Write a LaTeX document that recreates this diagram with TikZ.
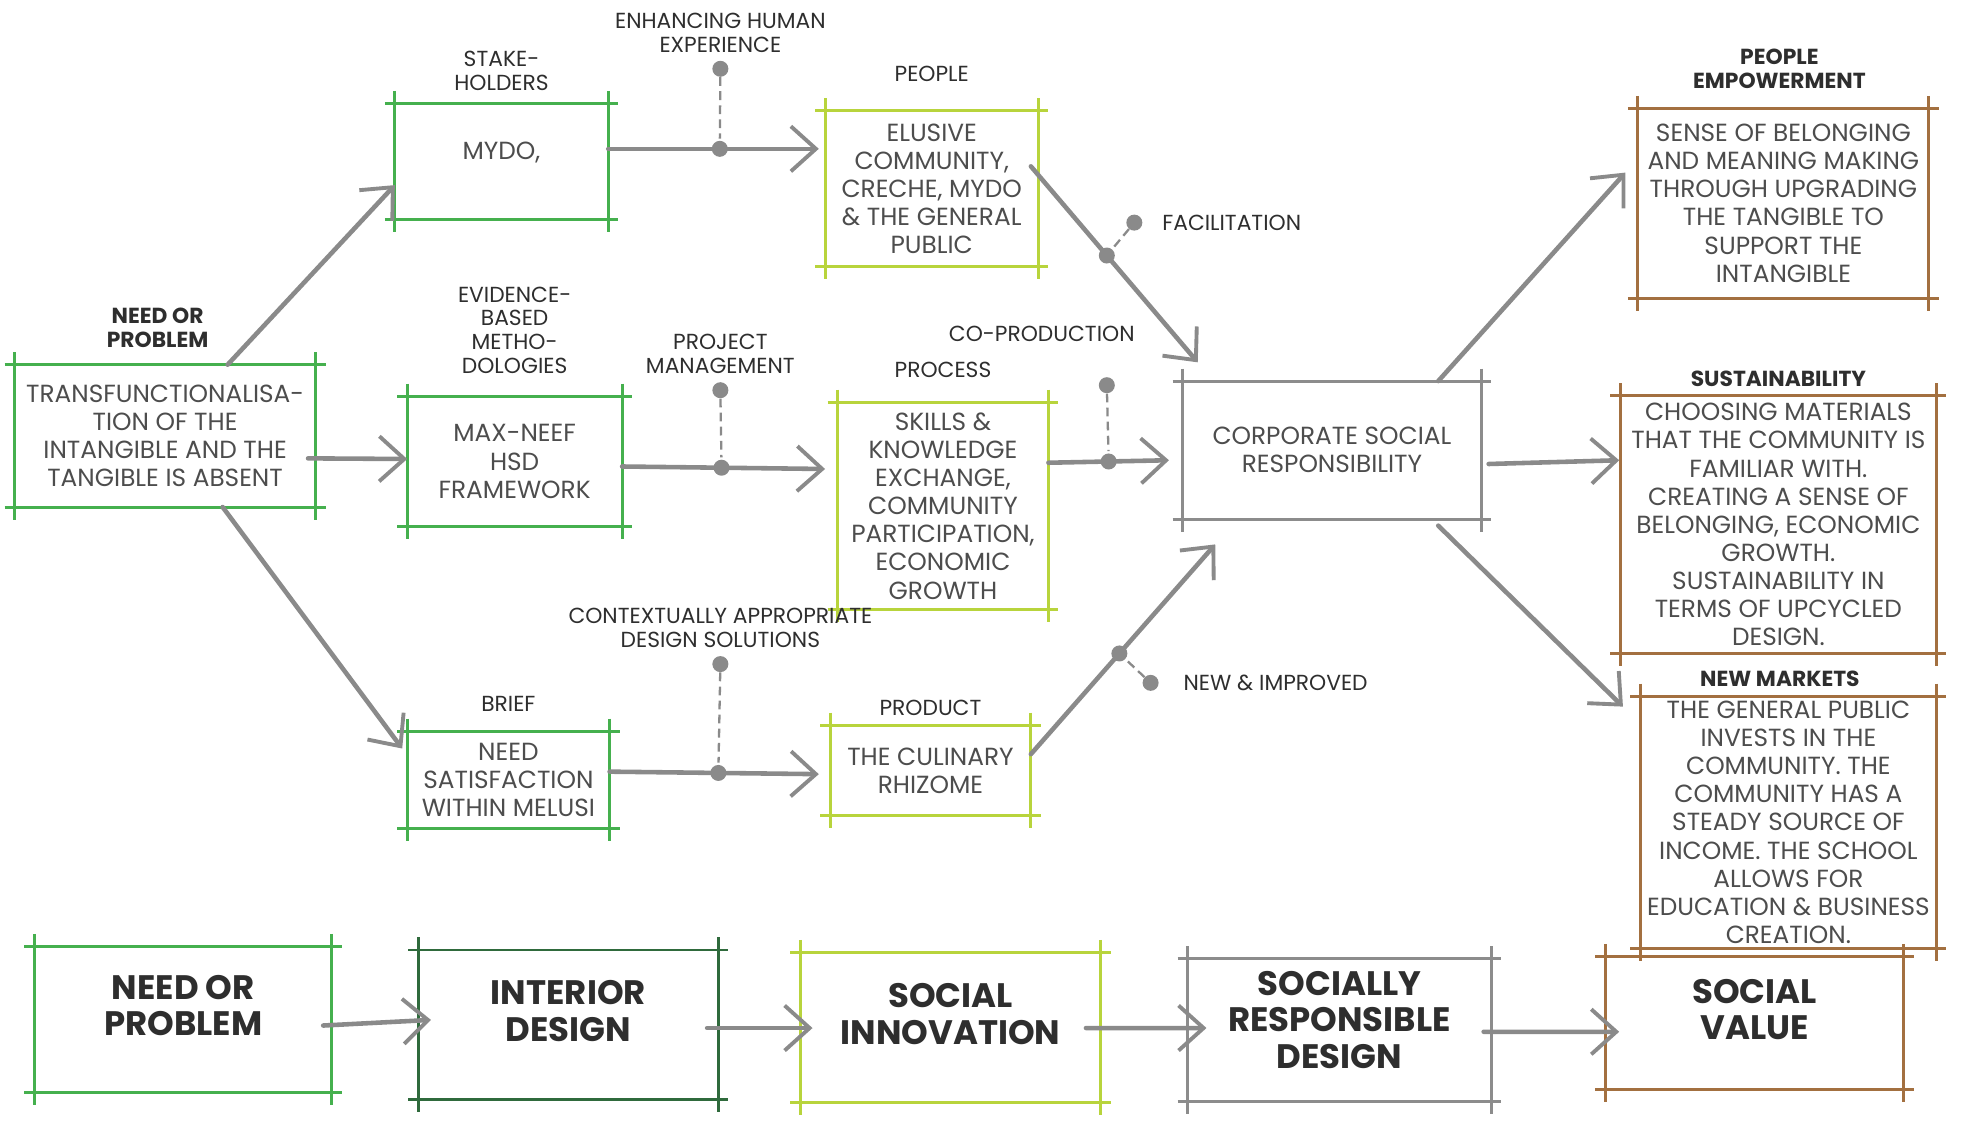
\documentclass[tikz,border=0pt]{standalone}
\usepackage{fontspec}
\setmainfont{Poppins}
\usetikzlibrary{arrows.meta,positioning,calc}

\definecolor{grnA}{HTML}{45B04E}
\definecolor{grnD}{HTML}{2F6A3C}
\definecolor{grnL}{HTML}{B8D43C}
\definecolor{boxgray}{HTML}{8C8C8C}
\definecolor{brwn}{HTML}{A37040}
\definecolor{arrowgray}{HTML}{8A8A8A}
\definecolor{txt}{HTML}{2E2E2E}

\newcommand\bodyfont{\fontsize{14.1}{16}\selectfont}
\newcommand\lblfont{\fontsize{12.4}{13.6}\selectfont}
\newcommand\bigfont{\fontsize{19.3}{20.8}\selectfont\bfseries}

\begin{document}
\begin{tikzpicture}[x=0.025cm, y=-0.025cm,
    % Styles
    box/.style={inner sep=0pt, align=center, font=\bodyfont, text=txt!85},
    bigbox/.style={inner sep=0pt, align=center, font=\bigfont, text=txt, text depth=0.55cm},
    lbl/.style={align=center, font=\lblfont, text=txt, inner sep=1pt},
    hdr/.style={align=center, font=\lblfont\bfseries, text=txt, inner sep=1pt},
    edge/.style={line width=1.7pt},
    conn/.style={draw=arrowgray, line width=2.6pt, line cap=round,
        -{Straight Barb[length=5mm, width=9mm, line width=2.2pt]}},
    dot/.style={circle, fill=arrowgray, minimum size=0.32cm, inner sep=0pt},
    tie/.style={draw=arrowgray, line width=1.3pt, dash pattern=on 5pt off 3pt}
]
\useasboundingbox (0,0) rectangle (1568,896);

% =============================================
% LEFT COLUMN
% =============================================
\node[box, minimum width=6cm, minimum height=2.83cm] (need) at (132,348.5)
    {TRANSFUNCTIONALISA-\\TION OF THE\\INTANGIBLE AND THE\\TANGIBLE IS ABSENT};
\node[hdr, above=0.3cm of need, xshift=-0.15cm] (needlbl) {NEED OR\\PROBLEM};

% =============================================
% INTERIOR DESIGN COLUMN
% =============================================
\node[box, minimum width=4.25cm, minimum height=2.3cm, text depth=0.42cm] (stake) at (401,129) {MYDO,};
\node[lbl, above=0.22cm of stake] (stakelbl) {STAKE-\\HOLDERS};

\node[box, minimum width=4.28cm, minimum height=2.6cm] (evid) at (411.5,369)
    {MAX-NEEF\\HSD\\FRAMEWORK};
\node[lbl, above=0.4cm of evid] (evidlbl) {EVIDENCE-\\BASED\\METHO-\\DOLOGIES};

\node[box, minimum width=4.03cm, minimum height=1.93cm] (brief) at (406.5,623.5)
    {NEED\\SATISFACTION\\WITHIN MELUSI};
\node[lbl, above=0.35cm of brief] (brieflbl) {BRIEF};

% =============================================
% SOCIAL INNOVATION COLUMN
% =============================================
\node[box, minimum width=4.25cm, minimum height=3.1cm] (people) at (745,151)
    {ELUSIVE\\COMMUNITY,\\CRECHE, MYDO\\\& THE GENERAL\\PUBLIC};
\node[lbl, above=0.55cm of people] (peoplelbl) {PEOPLE};

\node[box, minimum width=4.2cm, minimum height=4.13cm] (process) at (754,404.5)
    {SKILLS \&\\KNOWLEDGE\\EXCHANGE,\\COMMUNITY\\PARTICIPATION,\\ECONOMIC\\GROWTH};
\node[lbl, above=0.45cm of process] (processlbl) {PROCESS};

\node[box, minimum width=4cm, minimum height=1.8cm] (product) at (744,616)
    {THE CULINARY\\RHIZOME};
\node[lbl, above=0.15cm of product] (productlbl) {PRODUCT};

% =============================================
% CSR
% =============================================
\node[box, minimum width=5.95cm, minimum height=2.75cm] (csr) at (1065,360)
    {CORPORATE SOCIAL\\RESPONSIBILITY};

% =============================================
% SOCIAL VALUE COLUMN
% =============================================
\node[box, minimum width=5.8cm, minimum height=3.78cm] (empow) at (1426,162.5)
    {SENSE OF BELONGING\\AND MEANING MAKING\\THROUGH UPGRADING\\THE TANGIBLE TO\\SUPPORT THE\\INTANGIBLE};
\node[hdr, above=0.35cm of empow, xshift=-0.08cm] (empowlbl) {PEOPLE\\EMPOWERMENT};

\node[box, minimum width=6.3cm, minimum height=5.13cm] (sust) at (1422,419.5)
    {CHOOSING MATERIALS\\THAT THE COMMUNITY IS\\FAMILIAR WITH.\\CREATING A SENSE OF\\BELONGING, ECONOMIC\\GROWTH.\\SUSTAINABILITY IN\\TERMS OF UPCYCLED\\DESIGN.};
\node[hdr, above=0.15cm of sust] (sustlbl) {SUSTAINABILITY};

\node[box, minimum width=5.9cm, minimum height=5.03cm] (market) at (1430,657.5)
    {THE GENERAL PUBLIC\\INVESTS IN THE\\COMMUNITY. THE\\COMMUNITY HAS A\\STEADY SOURCE OF\\INCOME. THE SCHOOL\\ALLOWS FOR\\EDUCATION \& BUSINESS\\CREATION.};
\node[hdr, above=0.15cm of market, xshift=-0.17cm] (marketlbl) {NEW MARKETS};

% =============================================
% BOTTOM ROW
% =============================================
\node[bigbox, minimum width=5.93cm, minimum height=2.9cm]  (b1) at (146.5,815)  {NEED OR\\PROBLEM};
\node[bigbox, minimum width=5.98cm, minimum height=2.98cm] (b2) at (454.5,819.5) {INTERIOR\\DESIGN};
\node[bigbox, minimum width=6cm, minimum height=2.98cm]    (b3) at (760,821.5)  {SOCIAL\\INNOVATION};
\node[bigbox, minimum width=6.05cm, minimum height=2.83cm, text depth=0.4cm] (b4) at (1071,823.5) {SOCIALLY\\RESPONSIBLE\\DESIGN};
\node[bigbox, minimum width=5.95cm, minimum height=2.65cm] (b5) at (1403,818)   {SOCIAL\\VALUE};

% sketchy frames
\foreach \n/\c in {need/grnA, stake/grnA, evid/grnA, brief/grnA,
                   people/grnL, process/grnL, product/grnL, csr/boxgray,
                   empow/brwn, sust/brwn, market/brwn,
                   b1/grnA, b2/grnD, b3/grnL, b4/boxgray, b5/brwn}{
  \draw[\c, edge] ([xshift=-0.2cm]\n.north west) -- ([xshift=0.2cm]\n.north east);
  \draw[\c, edge] ([xshift=-0.2cm]\n.south west) -- ([xshift=0.2cm]\n.south east);
  \draw[\c, edge] ([yshift=0.25cm]\n.north west) -- ([yshift=-0.25cm]\n.south west);
  \draw[\c, edge] ([yshift=0.25cm]\n.north east) -- ([yshift=-0.25cm]\n.south east);
}

% =============================================
% CONNECTORS
% =============================================
\draw[conn] ($(need.north)+(50,0)$) -- ($(stake.west)+(0,19)$);
\draw[conn] ($(need.east)+(-6,18)$) -- ($(evid.west)+(0,-2)$);
\draw[conn] ($(need.south)+(46,0)$) -- ($(brief.west)+(-4,-25)$);

\draw[conn] ($(stake.east)+(0,-10)$) -- node[dot, pos=0.53] (enhA) {} ($(people.west)+(-5,-32)$);
\node[dot] (enhB) at (576,55) {};
\draw[tie] (enhB) -- (enhA);
\node[lbl, above=0.12cm of enhB] (enhlbl) {ENHANCING HUMAN\\EXPERIENCE};

\draw[conn] ($(evid.east)+(0,4)$) -- node[dot, pos=0.49] (pmA) {} ($(process.west)+(-10,-29.5)$);
\node[dot] (pmB) at (576,312) {};
\draw[tie] (pmB) -- (pmA);
\node[lbl, above=0.12cm of pmB] (pmlbl) {PROJECT\\MANAGEMENT};

\draw[conn] ($(brief.east)+(0,-6.5)$) -- node[dot, pos=0.52] (cdA) {} ($(product.west)+(-9,3)$);
\node[dot] (cdB) at (576,531) {};
\draw[tie] (cdB) -- (cdA);
\node[lbl, above=0.12cm of cdB] (cdlbl) {CONTEXTUALLY APPROPRIATE\\DESIGN SOLUTIONS};

\draw[conn] ($(people.east)+(-6,-18)$) -- node[dot, pos=0.455] (facA) {} ($(csr.north west)+(12,-15)$);
\node[dot] (facB) at (907,178) {};
\draw[tie] (facB) -- (facA);
\node[lbl, right=0.35cm of facB, anchor=west] (faclbl) {FACILITATION};

\draw[conn] ($(process.east)+(0,-34.5)$) -- node[dot, pos=0.5] (copA) {} ($(csr.west)+(-11,8)$);
\node[dot] (copB) at (885,308) {};
\draw[tie] (copB) -- (copA);
\node[lbl] (coplbl) at ($(copB)+(-52,-41)$) {CO-PRODUCTION};

\draw[conn] ($(product.east)+(0,-13)$) -- node[dot, pos=0.48] (newA) {} ($(csr.south west)+(26,20)$);
\node[dot] (newB) at (920,546) {};
\draw[tie] (newB) -- (newA);
\node[lbl, right=0.45cm of newB, anchor=west] (newlbl) {NEW \& IMPROVED};

\draw[conn] ($(csr.north)+(85,0)$) -- ($(empow.west)+(-10,-24.5)$);
\draw[conn] ($(csr.east)+(6,11)$) -- ($(sust.west)+(-1,-51.5)$);
\draw[conn] ($(csr.south)+(85,5)$) -- ($(market.west)+(-14,-92.5)$);

% bottom flow
\draw[conn] ($(b1.east)+(-7,5)$) -- ($(b2.west)+(10,-4)$);
\draw[conn] ($(b2.east)+(-9,2.5)$) -- ($(b3.west)+(10,0.5)$);
\draw[conn] ($(b3.east)+(-12,0.5)$) -- ($(b4.west)+(15,-1.5)$);
\draw[conn] ($(b4.east)+(-6,1.5)$) -- ($(b5.west)+(11,7)$);

\end{tikzpicture}
\end{document}
